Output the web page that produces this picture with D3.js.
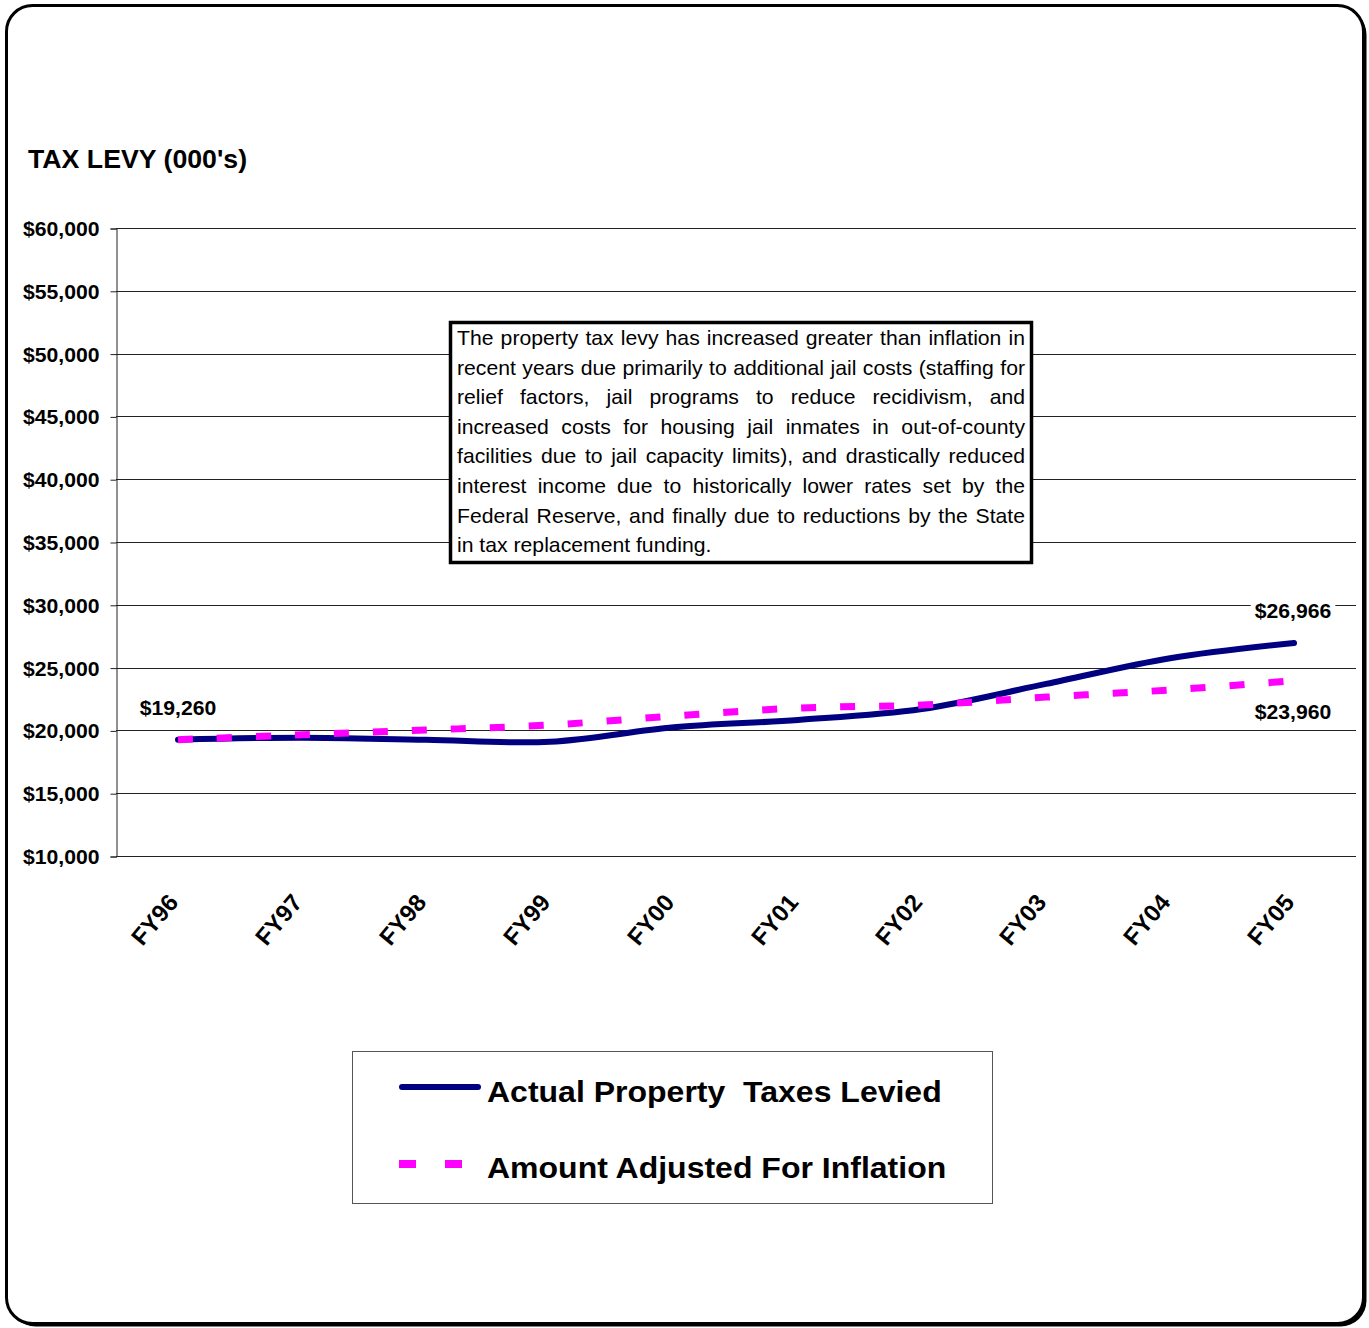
<!DOCTYPE html>
<html>
<head>
<meta charset="utf-8">
<script src="https://cdn.jsdelivr.net/npm/d3@7"></script>
<style>
  html, body { margin: 0; padding: 0; background: #fff; }
  svg text { font-family: Arial, "Liberation Sans", sans-serif; }
</style>
</head>
<body>
<svg id="chart" width="1369" height="1328"></svg>
<script>
// Fiscal years on the category axis
const years = ["FY96", "FY97", "FY98", "FY99", "FY00", "FY01", "FY02", "FY03", "FY04", "FY05"];
// Tax levy in thousands of dollars
const actualLevy = [19260, 19420, 19250, 19100, 20250, 20830, 21700, 23700, 25750, 26966];
const inflationAdjusted = [19260, 19650, 20030, 20430, 21150, 21780, 22020, 22650, 23220, 23960];
const yTicks = [10000, 15000, 20000, 25000, 30000, 35000, 40000, 45000, 50000, 55000, 60000];
const seriesNames = ["Actual Property  Taxes Levied", "Amount Adjusted For Inflation"];
const noteLines = [
  "The property tax levy has increased greater than inflation in",
  "recent years due primarily to additional jail costs (staffing for",
  "relief factors, jail programs to reduce recidivism, and",
  "increased costs for housing jail inmates in out-of-county",
  "facilities due to jail capacity limits), and drastically reduced",
  "interest income due to historically lower rates set by the",
  "Federal Reserve, and finally due to reductions by the State",
  "in tax replacement funding."
];

const SX = 1.06; // horizontal widening applied to the typeface
const svg = d3.select("#chart");
const fmt = d => "$" + d3.format(",")(d);

// Move a text's x/y into a transform so it can be widened horizontally
function widen(sel, sx = SX) {
  sel.each(function () {
    const t = d3.select(this);
    const tx = +t.attr("x") || 0, ty = +t.attr("y") || 0;
    const pre = t.attr("transform") || "";
    t.attr("x", 0).attr("y", 0)
      .attr("transform", `${pre} translate(${tx},${ty}) scale(${sx},1)`);
  });
}

// Frame with drop shadow
svg.append("rect").attr("x", 9.5).attr("y", 8.5).attr("width", 1357).attr("height", 1318)
  .attr("rx", 26).attr("fill", "#000");
svg.append("rect").attr("x", 6.5).attr("y", 5.5).attr("width", 1357).attr("height", 1318)
  .attr("rx", 26).attr("fill", "#fff").attr("stroke", "#000").attr("stroke-width", 3);

const plot = { left: 116, right: 1356, top: 228, bottom: 856 };

const x = d3.scalePoint().domain(years).range([plot.left, plot.right]).padding(0.5);
const y = d3.scaleLinear().domain([10000, 60000]).range([plot.bottom, plot.top]);

// Title
svg.append("text").attr("x", 28).attr("y", 168)
  .attr("font-size", 25.2).attr("font-weight", "bold").attr("fill", "#000")
  .text("TAX LEVY (000's)").call(widen);

// Gridlines
svg.append("g").selectAll("line").data(yTicks).join("line")
  .attr("x1", plot.left).attr("x2", plot.right)
  .attr("y1", d => Math.round(y(d)) + 0.5).attr("y2", d => Math.round(y(d)) + 0.5)
  .attr("stroke", "#222").attr("stroke-width", 1);

// Y axis
const yAxis = d3.axisLeft(y).tickValues(yTicks).tickFormat(fmt).tickSize(6).tickPadding(11);
const gy = svg.append("g").attr("transform", `translate(${plot.left + 0.5},0.5)`).call(yAxis);
gy.select(".domain").attr("stroke", "#222");
gy.selectAll(".tick line").attr("stroke", "#222");
gy.selectAll(".tick text").attr("font-size", 20).attr("font-weight", "bold")
  .attr("fill", "#000").attr("font-family", "Arial, 'Liberation Sans', sans-serif")
  .attr("y", 0).attr("dy", "0.35em").call(widen);

// X axis labels (rotated)
const xAxis = d3.axisBottom(x).tickSize(0).tickPadding(0);
const gx = svg.append("g").attr("transform", `translate(0,${plot.bottom})`).call(xAxis);
gx.select(".domain").remove();
gx.selectAll(".tick text")
  .attr("font-size", 24).attr("font-weight", "bold").attr("fill", "#000")
  .attr("font-family", "Arial, 'Liberation Sans', sans-serif")
  .attr("text-anchor", "end").attr("dy", 0).attr("y", 0)
  .attr("transform", "translate(1,47) rotate(-50)");

// Annotation box with justified text
const note = { x: 450.5, y: 322.5, w: 581, h: 240 };
svg.append("rect").attr("x", note.x).attr("y", note.y).attr("width", note.w).attr("height", note.h)
  .attr("fill", "#fff").attr("stroke", "#000").attr("stroke-width", 3.5);
const textLeft = 457, textRight = 1025;
const noteG = svg.append("g").attr("font-size", 20).attr("fill", "#000")
  .attr("transform", `translate(${textLeft},0) scale(${SX},1)`);
const innerW = (textRight - textLeft) / SX;
noteLines.forEach((line, i) => {
  const by = 345 + i * 29.6;
  const t = noteG.append("text").attr("y", by);
  if (i === noteLines.length - 1) {
    t.attr("x", 0).text(line);
    return;
  }
  const words = line.split(" ");
  const spans = words.map(w => t.append("tspan").text(w));
  const widths = spans.map(s => s.node().getComputedTextLength());
  const gap = (innerW - d3.sum(widths)) / (words.length - 1);
  let cx = 0;
  spans.forEach((s, k) => { s.attr("x", cx); cx += widths[k] + gap; });
});

// Series lines
const line = d3.line().x((d, i) => x(years[i])).y(d => y(d)).curve(d3.curveCatmullRom.alpha(0.5));
svg.append("path").datum(actualLevy).attr("d", line)
  .attr("fill", "none").attr("stroke", "#000080").attr("stroke-width", 6)
  .attr("stroke-linecap", "round").attr("stroke-linejoin", "round");
svg.append("path").datum(inflationAdjusted).attr("d", line)
  .attr("fill", "none").attr("stroke", "#ff00ff").attr("stroke-width", 7)
  .attr("stroke-dasharray", "15,24");

// Data labels
const labelData = [
  { v: actualLevy[0], i: 0, dx: 0, dy: -25, bg: false },
  { v: actualLevy[9], i: 9, dx: -1, dy: -25, bg: true },
  { v: inflationAdjusted[9], i: 9, dx: -1, dy: 38, bg: true }
];
const lg = svg.append("g");
labelData.forEach(d => {
  const cx = x(years[d.i]) + d.dx, cy = y(d.v) + d.dy;
  const t = lg.append("text").attr("x", cx).attr("y", cy).attr("text-anchor", "middle")
    .attr("font-size", 20).attr("font-weight", "bold").attr("fill", "#000").text(fmt(d.v))
    .call(widen);
  if (d.bg) {
    const bb = t.node().getBoundingClientRect();
    lg.insert("rect", () => t.node()).attr("x", bb.x - 4).attr("y", bb.y - 2)
      .attr("width", bb.width + 8).attr("height", bb.height + 8).attr("fill", "#fff");
  }
});

// Legend
const legend = svg.append("g");
legend.append("rect").attr("x", 352.5).attr("y", 1051.5).attr("width", 640).attr("height", 152)
  .attr("fill", "#fff").attr("stroke", "#555").attr("stroke-width", 1);
legend.append("line").attr("x1", 402).attr("x2", 478).attr("y1", 1087).attr("y2", 1087)
  .attr("stroke", "#000080").attr("stroke-width", 6).attr("stroke-linecap", "round");
legend.append("line").attr("x1", 399).attr("x2", 462).attr("y1", 1164).attr("y2", 1164)
  .attr("stroke", "#ff00ff").attr("stroke-width", 8).attr("stroke-dasharray", "17,29");
legend.selectAll("text.lbl").data(seriesNames).join("text").attr("class", "lbl")
  .attr("x", 487).attr("y", (d, i) => 1102 + i * 76)
  .attr("font-size", 30.2).attr("font-weight", "bold").attr("fill", "#000")
  .style("white-space", "pre").text(d => d).call(widen);
</script>
</body>
</html>
